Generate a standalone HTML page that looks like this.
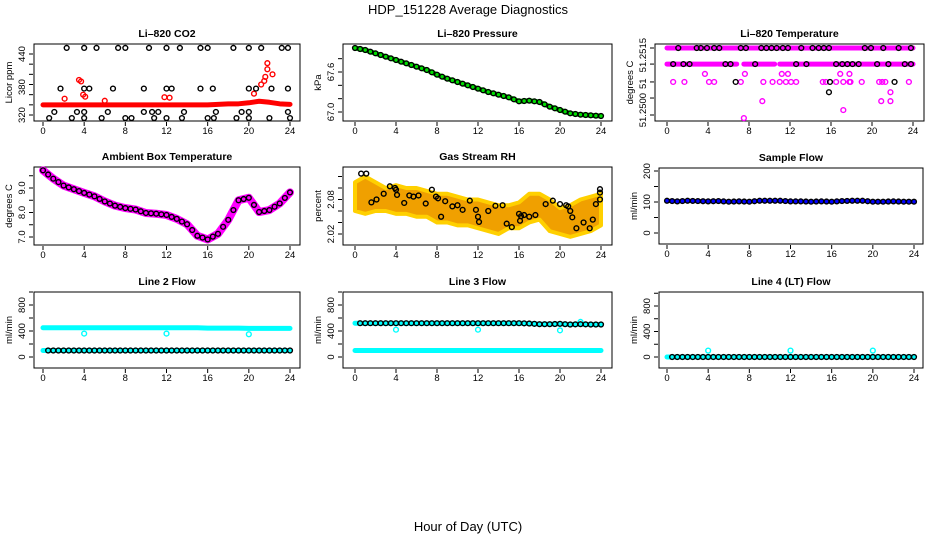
<!DOCTYPE html>
<html><head><meta charset="utf-8"><style>
html,body{margin:0;padding:0;background:#fff;}
svg{display:block;font-family:"Liberation Sans",sans-serif;}
</style></head><body>
<svg id="chart" width="936" height="540" viewBox="0 0 936 540" xmlns="http://www.w3.org/2000/svg">
<text x="468" y="14" font-size="13" text-anchor="middle">HDP_151228  Average Diagnostics</text>
<text x="468" y="531" font-size="13" text-anchor="middle">Hour of Day (UTC)</text>
</svg>
<script>
// ---- data ----
var hours=[0,1,2,3,4,5,6,7,8,9,10,11,12,13,14,15,16,17,18,19,20,21,22,23,24];
var xTicks=[0,4,8,12,16,20,24];
// CO2
var co2Band=[340,340,340,340,340,340,340,340,340,340,340,340,340,340,340,340,340,341,342,342,344,347,345,342,341];
var co2RedX=[3.5,3.7,2.1,4.1,12.3,21.8,21.8,22.3,21.6,21.2,21.5,6,11.8,3.9,20.5];
var co2RedY=[389,386,352,356,354,422,410,400,395,380,387,348,355,360,362];
var co2BlackX=[2.3,4,5.2,7.3,8,10.3,12,13.3,15.3,16,18.5,20,21.2,23.2,23.8,1.7,4,4.5,6.8,9.8,12,12.5,15.3,16.5,20,20.7,22.2,23.8,1.1,3.3,4,6.3,9.8,10.6,11.2,13.7,16.8,19.3,20,23.8,0.6,2.8,4,5.7,8,8.6,10.8,12,13.5,16,16.6,18.8,20,22,24];
var co2BlackY=[452,452,452,452,452,452,452,452,452,452,452,452,452,452,452,372,372,372,372,372,372,372,372,372,372,372,372,372,326,326,326,326,326,326,326,326,326,326,326,326,314,314,314,314,314,314,314,314,314,314,314,314,314,314,314];
// Pressure
var pres=[67.96,67.93,67.88,67.83,67.78,67.73,67.68,67.63,67.56,67.5,67.45,67.4,67.35,67.3,67.26,67.22,67.16,67.17,67.15,67.08,67.03,66.98,66.96,66.95,66.94];
// Li-820 temperature
var tL1=51.2515, tL2=51.25114;
var tBlackL1=[1.1,2.9,3.3,3.9,4.6,5.1,7.2,7.7,9.2,9.7,10.2,10.7,11.3,11.8,13.1,14.2,14.8,15.3,15.8,19.3,19.9,21.1,22.6,23.8];
var tBlackL2=[0.6,1.6,2.2,5.7,6.2,8.6,12.6,13.6,16.5,17.1,17.6,18.1,18.7,20.5,21.6,23.2,23.8];
var tBandL2Start=[0,7.5,11];
var tBandL2End=[6.8,10.5,24];
var tMagX=[0.6,1.7,4.1,4.6,7.2,9.4,10.3,11,11.6,12.1,12.6,15.2,15.5,16.5,17.2,17.8,17.9,19,20.7,21,21.3,23.6,3.7,7.6,11.2,11.8,16.9,17.8,9.3,20.9,21.8,21.8,17.2,7.5];
var tMagY=[51.25074,51.25074,51.25074,51.25074,51.25074,51.25074,51.25074,51.25074,51.25074,51.25074,51.25074,51.25074,51.25074,51.25074,51.25074,51.25074,51.25074,51.25074,51.25074,51.25074,51.25074,51.25074,51.25092,51.25092,51.25092,51.25092,51.25092,51.25092,51.25031,51.25031,51.25031,51.25051,51.25011,51.24993];
var tBlkX=[6.7,15.9,22.2,15.8];
var tBlkY=[51.25074,51.25074,51.25074,51.25051];
// Ambient
var amb=[9.72,9.38,9.1,8.95,8.8,8.66,8.45,8.28,8.18,8.12,7.98,7.95,7.9,7.74,7.52,7.05,6.9,7.13,7.7,8.5,8.6,8.02,8.1,8.37,8.82];
// RH
var rhUpper=[2.11,2.12,2.11,2.1,2.105,2.1,2.1,2.095,2.09,2.09,2.085,2.08,2.08,2.075,2.07,2.07,2.075,2.09,2.09,2.08,2.065,2.07,2.08,2.085,2.09];
var rhLower=[2.06,2.055,2.06,2.06,2.055,2.055,2.05,2.05,2.04,2.04,2.035,2.035,2.03,2.025,2.02,2.03,2.03,2.04,2.045,2.025,2.02,2.015,2.02,2.025,2.035];
var rhBlackX=[0.6,1.1,1.6,2.1,2.8,3.4,3.9,4,4.1,4.8,5.3,5.7,6.2,6.9,7.5,7.9,8.1,8.4,8.8,9.5,10,10.5,11.2,11.8,12,12.1,13,13.7,14.4,14.8,15.3,16,16.2,16.5,16.1,17,17.6,18.6,19.3,20,20.6,20.8,21,21.2,21.6,22.3,22.9,23.5,23.9,23.9,23.9,23.2];
var rhBlackY=[2.125,2.125,2.075,2.08,2.09,2.103,2.1,2.097,2.088,2.074,2.087,2.085,2.087,2.073,2.097,2.085,2.082,2.05,2.077,2.068,2.07,2.062,2.078,2.062,2.05,2.041,2.06,2.069,2.07,2.038,2.032,2.055,2.051,2.053,2.043,2.05,2.053,2.072,2.078,2.072,2.07,2.068,2.06,2.049,2.03,2.04,2.03,2.072,2.08,2.092,2.098,2.045];
// Sample flow
var sampleFlow=[104,102,104,103,102,103,101,102,101,104,104,104,102,102,101,102,101,103,104,104,101,101,102,101,101];
// Line flows
var l2High=[450,450,450,450,450,450,450,450,450,450,450,450,450,450,450,450,445,445,445,445,440,440,440,440,440];
var l2Low=[100,100,100,100,100,100,100,100,100,100,100,100,100,100,100,100,100,100,100,100,100,100,100,100,100];
var l2DipX=[4,12,20];
var l2DipY=[360,360,350];
var l3High=[520,520,520,520,520,520,520,520,520,520,520,520,520,520,520,520,520,515,505,505,510,500,505,500,500];
var l3Low=[100,100,100,100,100,100,100,100,100,100,100,100,100,100,100,100,100,100,100,100,100,100,100,100,100];
var l3OutX=[4,12,20,22];
var l3OutY=[420,420,410,540];
var l4=[0,0,0,0,0,0,0,0,0,0,0,0,0,0,0,0,0,0,0,0,0,0,0,0,0];
var l4OutX=[4,12,20];
var l4OutY=[100,100,100];

// ---- drawing ----
var NS='http://www.w3.org/2000/svg';
var svg=document.getElementById('chart');
function mk(tag,parent){var e=document.createElementNS(NS,tag);parent.appendChild(e);return e;}
function Panel(name,title,bx0,bx1,by0,by1,x0px,x24px,v1,p1,v2,p2){
  var g=mk('g',svg);
  
  
  this.g=g;this.bx0=bx0;this.bx1=bx1;this.by0=by0;this.by1=by1;
  this.sx=function(h){return x0px+(x24px-x0px)*h/24;};
  this.sy=function(v){return p1+(v-v1)*(p2-p1)/(v2-v1);};
  var t=mk('text',g);
  
  
  t.setAttribute('x',(bx0+bx1)/2);t.setAttribute('y',by0-7);t.setAttribute('font-size','10.5');t.setAttribute('font-weight','bold');t.setAttribute('text-anchor','middle');t.textContent=title;
}
Panel.prototype.frame=function(ytitle,yticks,ylabels,ylabelVals){
  var g=this.g,self=this;
  var r=mk('rect',g);
  
  
  r.setAttribute('x',this.bx0);r.setAttribute('y',this.by0);r.setAttribute('width',this.bx1-this.bx0);r.setAttribute('height',this.by1-this.by0);r.setAttribute('fill','none');r.setAttribute('stroke','#000');r.setAttribute('stroke-width','1');
  xTicks.forEach(function(h){
    var x=self.sx(h);
    var l=mk('line',g);
    
    
    l.setAttribute('x1',x);l.setAttribute('x2',x);l.setAttribute('y1',self.by1+1);l.setAttribute('y2',self.by1+5);l.setAttribute('stroke','#000');
    var t=mk('text',g);
    
    
    t.setAttribute('x',x);t.setAttribute('y',self.by1+13);t.setAttribute('font-size','9.5');t.setAttribute('text-anchor','middle');t.textContent=h;
  });
  yticks.forEach(function(v){
    var y=self.sy(v);
    var l=mk('line',g);
    
    
    l.setAttribute('x1',self.bx0-1);l.setAttribute('x2',self.bx0-5);l.setAttribute('y1',y);l.setAttribute('y2',y);l.setAttribute('stroke','#000');
  });
  ylabels.forEach(function(s,i){
    var y=self.sy(ylabelVals[i]);var x=self.bx0-9;
    var t=mk('text',g);
    
    
    t.setAttribute('x',x);t.setAttribute('y',y);t.setAttribute('font-size','9.5');t.setAttribute('text-anchor','middle');
    t.setAttribute('transform','rotate(-90 '+x+' '+y+')');t.textContent=s;
  });
  var cy=(this.by0+this.by1)/2,cx=this.bx0-22;
  var t=mk('text',g);
  
  
  t.setAttribute('x',cx);t.setAttribute('y',cy);t.setAttribute('font-size','9.5');t.setAttribute('text-anchor','middle');
  t.setAttribute('transform','rotate(-90 '+cx+' '+cy+')');t.textContent=ytitle;
};
Panel.prototype.band=function(xs,vals,color,w,name){
  var self=this,pts=xs.map(function(h,i){return self.sx(h)+','+self.sy(vals[i]);}).join(' ');
  var p=mk('polyline',this.g);
  
  
  p.setAttribute('points',pts);p.setAttribute('fill','none');p.setAttribute('stroke',color);p.setAttribute('stroke-width',w);p.setAttribute('stroke-linejoin','round');p.setAttribute('stroke-linecap','round');
};
Panel.prototype.pts=function(xs,vals,color,name,r){
  var self=this;
  xs.forEach(function(h,i){
    var c=mk('circle',self.g);
    
    
    c.setAttribute('cx',self.sx(h));c.setAttribute('cy',self.sy(vals[i]));c.setAttribute('r',r||2.4);c.setAttribute('fill','none');c.setAttribute('stroke',color);c.setAttribute('stroke-width','1.4');
  });
};
function halfHours(){var a=[];for(var i=0;i<hours.length-1;i++){a.push(hours[i]+0.5);}return a;}
function mid(arr){var a=[];for(var i=0;i<arr.length-1;i++){a.push((arr[i]+arr[i+1])/2);}return a;}

// Panel 1: CO2
var p1=new Panel('co2-panel','Li\u2013820 CO2',34,300,44,121,43,290,320,115,440,54);
p1.frame('Licor ppm',[320,340,360,380,400,420,440],['320','380','440'],[320,375,440]);
p1.band(hours,co2Band,'#ff0000',5,'co2-band');
p1.pts(co2RedX,co2RedY,'#ff0000','co2-red-point');
p1.pts(co2BlackX,co2BlackY,'#000','co2-point');

// Panel 2: Pressure
var p2=new Panel('pressure-panel','Li\u2013820 Pressure',343,612,44,121,355,601,67.0,112,67.6,72);
p2.frame('kPa',[67.0,67.2,67.4,67.6,67.8],['67.0','67.6'],[67.0,67.6]);
p2.band(hours,pres,'#00dd00',5,'pressure-band');
p2.pts(hours,pres,'#000','pressure-point');
p2.pts(halfHours(),mid(pres),'#000','pressure-point');

// Panel 3: Li-820 Temperature
var p3=new Panel('temperature-panel','Li\u2013820 Temperature',655,924,44,121,667,913,51.2500,115,51.2515,48);
p3.frame('degrees C',[51.2515,51.25114,51.25074,51.25038,51.2500],['51.2515','51','51.2500'],[51.25134,51.2507,51.25011]);
p3.band([0,24],[tL1,tL1],'#ff00ff',5,'temp-band-top');
tBandL2Start.forEach(function(s,i){p3.band([s,tBandL2End[i]],[tL2,tL2],'#ff00ff',5,'temp-band-mid');});
p3.pts(tMagX,tMagY,'#ff00ff','temp-magenta-point');
p3.pts(tBlackL1,tBlackL1.map(function(){return tL1;}),'#000','temp-point');
p3.pts(tBlackL2,tBlackL2.map(function(){return tL2;}),'#000','temp-point');
p3.pts(tBlkX,tBlkY,'#000','temp-point');

// Panel 4: Ambient
var p4=new Panel('ambient-panel','Ambient Box Temperature',34,300,167,245,43,290,7.0,237,9.0,188);
p4.frame('degrees C',[7.0,7.5,8.0,8.5,9.0,9.5],['7.0','8.0','9.0'],[7.0,8.0,9.0]);
p4.band(hours,amb,'#ff00ff',8,'ambient-band');
p4.pts(hours,amb,'#000','ambient-point');
p4.pts(halfHours(),mid(amb),'#000','ambient-point');

// Panel 5: RH
var p5=new Panel('rh-panel','Gas Stream RH',343,612,167,245,355,601,2.02,234,2.08,199.5);
p5.frame('percent',[2.02,2.04,2.06,2.08,2.10,2.12],['2.02','2.08'],[2.02,2.08]);
(function(){
  var pts=hours.map(function(h,i){return p5.sx(h)+','+p5.sy(rhUpper[i]);});
  for(var i=hours.length-1;i>=0;i--){pts.push(p5.sx(hours[i])+','+p5.sy(rhLower[i]));}
  var pg=mk('polygon',p5.g);
  
  
  pg.setAttribute('points',pts.join(' '));pg.setAttribute('fill','#f0a000');pg.setAttribute('stroke','#ffd000');pg.setAttribute('stroke-width','4');pg.setAttribute('stroke-linejoin','round');
})();
p5.pts(rhBlackX,rhBlackY,'#000','rh-point');

// Panel 6: Sample flow
var p6=new Panel('sample-flow-panel','Sample Flow',659,923,168,244,667,914,0,233,200,171);
p6.frame('ml/min',[0,50,100,150,200],['0','100','200'],[0,100,200]);
p6.band(hours,sampleFlow,'#0000ff',4,'sample-flow-band');
p6.pts(hours,sampleFlow,'#000','sample-flow-point');
p6.pts(halfHours(),mid(sampleFlow),'#000','sample-flow-point');

// Panel 7: Line 2
var p7=new Panel('line2-panel','Line 2 Flow',34,300,292,368,43,290,0,357,800,305);
p7.frame('ml/min',[0,200,400,600,800,1000],['0','400','800'],[0,400,800]);
p7.band(hours,l2High,'#00ffff',5,'line2-high-band');
p7.band(hours,l2Low,'#00ffff',5,'line2-low-band');
p7.pts(l2DipX,l2DipY,'#00ffff','line2-dip-point');
p7.pts(hours.slice(1),l2Low.slice(1),'#000','line2-point');
p7.pts(halfHours(),mid(l2Low),'#000','line2-point');

// Panel 8: Line 3
var p8=new Panel('line3-panel','Line 3 Flow',343,612,292,368,355,601,0,357,800,305);
p8.frame('ml/min',[0,200,400,600,800,1000],['0','400','800'],[0,400,800]);
p8.band(hours,l3High,'#00ffff',5,'line3-high-band');
p8.band(hours,l3Low,'#00ffff',5,'line3-low-band');
p8.pts(l3OutX,l3OutY,'#00ffff','line3-outlier-point');
p8.pts(hours.slice(1),l3High.slice(1),'#000','line3-point');
p8.pts(halfHours(),mid(l3High),'#000','line3-point');

// Panel 9: Line 4
var p9=new Panel('line4-panel','Line 4 (LT) Flow',659,923,292,368,667,914,0,357,800,306);
p9.frame('ml/min',[0,200,400,600,800,1000],['0','400','800'],[0,400,800]);
p9.band(hours,l4,'#00ffff',5,'line4-band');
p9.pts(l4OutX,l4OutY,'#00ffff','line4-outlier-point');
p9.pts(hours.slice(1),l4.slice(1),'#000','line4-point');
p9.pts(halfHours(),mid(l4),'#000','line4-point');
</script>
</body></html>
